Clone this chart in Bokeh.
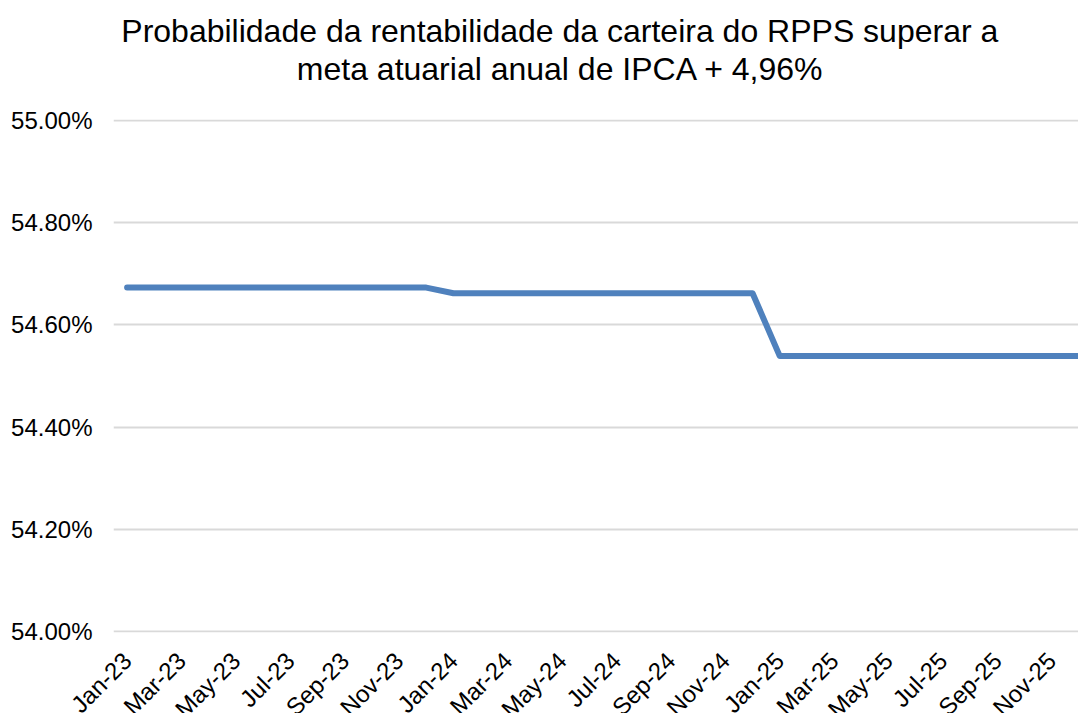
import math
from bokeh.plotting import figure
from bokeh.models import Range1d, FixedTicker, PrintfTickFormatter, Title
from bokeh.embed import file_html
from bokeh.resources import INLINE

months = ["Jan-23", "Feb-23", "Mar-23", "Apr-23", "May-23", "Jun-23",
          "Jul-23", "Aug-23", "Sep-23", "Oct-23", "Nov-23", "Dec-23",
          "Jan-24", "Feb-24", "Mar-24", "Apr-24", "May-24", "Jun-24",
          "Jul-24", "Aug-24", "Sep-24", "Oct-24", "Nov-24", "Dec-24",
          "Jan-25", "Feb-25", "Mar-25", "Apr-25", "May-25", "Jun-25",
          "Jul-25", "Aug-25", "Sep-25", "Oct-25", "Nov-25", "Dec-25"]
probability = [54.673, 54.673, 54.673, 54.673, 54.673, 54.673,
               54.673, 54.673, 54.673, 54.673, 54.673, 54.673,
               54.662, 54.662, 54.662, 54.662, 54.662, 54.662,
               54.662, 54.662, 54.662, 54.662, 54.662, 54.662,
               54.539, 54.539, 54.539, 54.539, 54.539, 54.539,
               54.539, 54.539, 54.539, 54.539, 54.539, 54.539]
y_ticks = [54.0, 54.2, 54.4, 54.6, 54.8, 55.0]
title_lines = ["Probabilidade da rentabilidade da carteira do RPPS superar a",
               "meta atuarial anual de IPCA + 4,96%"]

FONT = "Liberation Sans"
x = list(range(len(months)))

p = figure(frame_width=979, frame_height=513, output_backend="svg",
           toolbar_location=None,
           x_range=Range1d(-0.5, 35.5), y_range=Range1d(53.998, 55.002),
           min_border_left=113, min_border_right=0, min_border_top=119,
           min_border_bottom=0)
p.outline_line_color = None
p.background_fill_color = "white"
p.border_fill_color = "white"

p.line(x, probability, line_color="#4F81BD", line_width=6,
       line_cap="round", line_join="round")

p.xgrid.grid_line_color = None
p.ygrid.grid_line_color = "#d9d9d9"
p.ygrid.grid_line_width = 2

xa = p.xaxis[0]
xa.ticker = FixedTicker(ticks=x[::2])
xa.major_label_overrides = {i: months[i] for i in x[::2]}
xa.major_label_orientation = math.pi / 4
xa.axis_line_color = None
xa.major_tick_line_color = None
xa.minor_tick_line_color = None
xa.major_label_standoff = 18
xa.major_label_text_font = FONT
xa.major_label_text_font_size = "24px"
xa.major_label_text_color = "black"

ya = p.yaxis[0]
ya.ticker = FixedTicker(ticks=y_ticks)
ya.formatter = PrintfTickFormatter(format="%.2f%%")
ya.axis_line_color = None
ya.major_tick_line_color = None
ya.minor_tick_line_color = None
ya.major_label_standoff = 15
ya.major_label_text_font = FONT
ya.major_label_text_font_size = "24px"
ya.major_label_text_color = "black"

# spacer between the frame and the title (panels added first sit closest)
p.add_layout(Title(text=" ", text_font=FONT, text_font_size="28px",
                   standoff=0), "above")
title_offsets = [7.8, 183.3]
for line, off in reversed(list(zip(title_lines, title_offsets))):
    p.add_layout(Title(text=line, align="left", offset=off,
                       text_font=FONT, text_font_size="32px",
                       text_font_style="normal", text_color="black",
                       standoff=0), "above")

open("out.html", "w").write(file_html(p, INLINE))
